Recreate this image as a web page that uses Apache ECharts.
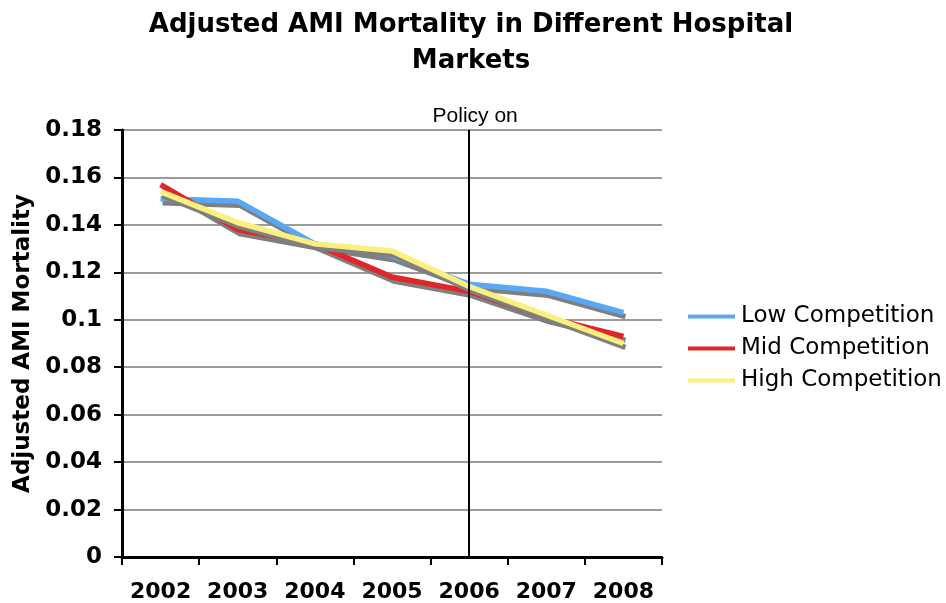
<!DOCTYPE html>
<html>
<head>
<meta charset="utf-8">
<script src="https://cdn.jsdelivr.net/npm/echarts@6/dist/echarts.min.js"></script>
<style>html,body{margin:0;padding:0;background:#fff}#c{width:946px;height:603px}</style>
</head>
<body>
<div id="c"></div>
<script>
const years = ['2002','2003','2004','2005','2006','2007','2008'];
const lowCompetition  = [0.151, 0.150, 0.132, 0.127, 0.115, 0.112, 0.103];
const midCompetition  = [0.157, 0.138, 0.132, 0.118, 0.112, 0.101, 0.093];
const highCompetition = [0.154, 0.141, 0.132, 0.129, 0.114, 0.102, 0.090];
const seriesNames = ['Low Competition','Mid Competition','High Competition'];
const seriesColors = ['#5aa7f5','#e0262b','#fbf07e'];
const policyYear = '2006';
const policyLabel = 'Policy on';
const yTicks = {min: 0, max: 0.18, interval: 0.02};

const chart = echarts.init(document.getElementById('c'));
const dataSets = [lowCompetition, midCompetition, highCompetition];
const series = dataSets.map((d, i) => ({
  name: seriesNames[i],
  type: 'line',
  data: d,
  symbol: 'none',
  lineStyle: {width: 5.5, color: seriesColors[i], shadowColor: '#7f7f7f', shadowBlur: 0, shadowOffsetX: 2, shadowOffsetY: 4, join: 'miter'},
  itemStyle: {color: seriesColors[i]},
  z: 3 + i
}));
series[0].markLine = {
  silent: true,
  symbol: 'none',
  lineStyle: {color: '#000', width: 2, type: 'solid', shadowBlur: 0, shadowOffsetX: 0, shadowOffsetY: 0},
  label: {show: true, position: 'end', formatter: policyLabel, fontFamily: 'Liberation Sans', fontSize: 21, color: '#000', distance: 3, offset: [6, 0]},
  data: [{xAxis: policyYear}],
  z: 10
};
chart.setOption({
  animation: false,
  title: {
    text: 'Adjusted AMI Mortality in Different Hospital\nMarkets',
    left: 466, top: 2, textAlign: 'center',
    textStyle: {fontFamily: 'DejaVu Sans', fontWeight: 'bold', fontSize: 26, color: '#000', lineHeight: 36}
  },
  legend: {
    orient: 'vertical', left: 688, top: 305, itemGap: 9, padding: 0,
    itemWidth: 47, itemHeight: 24, icon: 'path://M0,10 L47,10 L47,14 L0,14 Z',
    textStyle: {fontFamily: 'DejaVu Sans', fontSize: 23, color: '#000', padding: [0,0,0,1]},
    data: seriesNames
  },
  grid: {left: 122, right: 284, top: 130, bottom: 46, containLabel: false, outerBoundsMode: 'none'},
  xAxis: {
    type: 'category', data: years, boundaryGap: true,
    axisLine: {lineStyle: {color: '#000', width: 3}},
    axisTick: {show: true, length: 8, lineStyle: {color: '#000', width: 2}},
    axisLabel: {interval: 0, hideOverlap: false, fontFamily: 'DejaVu Sans', fontWeight: 'bold', fontSize: 22, color: '#000', margin: 24}
  },
  yAxis: {
    type: 'value', min: yTicks.min, max: yTicks.max, interval: yTicks.interval,
    name: 'Adjusted AMI Mortality', nameLocation: 'middle', nameGap: 86,
    nameTextStyle: {fontFamily: 'DejaVu Sans', fontWeight: 'bold', fontSize: 23, color: '#000'},
    axisLine: {show: true, lineStyle: {color: '#000', width: 3}},
    axisTick: {show: true, length: 8, lineStyle: {color: '#000', width: 2}},
    splitLine: {lineStyle: {color: '#7a7a7a', width: 1.5}},
    axisLabel: {fontFamily: 'DejaVu Sans', fontWeight: 'bold', fontSize: 23, color: '#000', margin: 20}
  },
  series: series
});
</script>
</body>
</html>
